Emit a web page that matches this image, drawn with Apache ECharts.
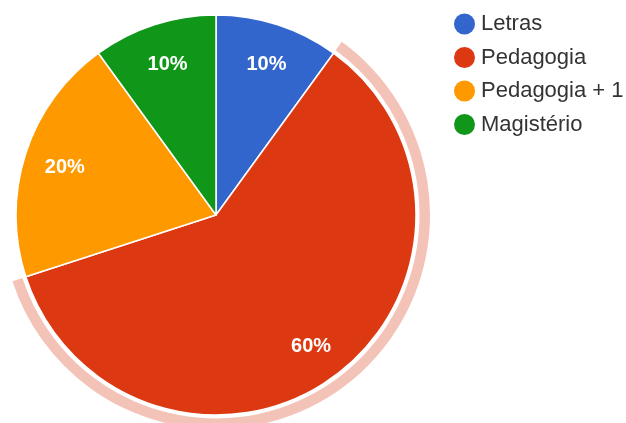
<!DOCTYPE html>
<html>
<head>
<meta charset="utf-8">
<style>
  html, body { margin: 0; padding: 0; background: #fff; }
  #chart { width: 626px; height: 423px; }
</style>
<script src="https://cdn.jsdelivr.net/npm/echarts@6/dist/echarts.min.js"></script>
</head>
<body>
<div id="chart"></div>
<script>
// Course share data
const categories = ['Letras', 'Pedagogia', 'Pedagogia + 1', 'Magistério'];
const values = [10, 60, 20, 10];
const colors = ['#3366cc', '#dc3912', '#ff9900', '#109618'];
const highlighted = 'Pedagogia';

const center = [216, 215];

const chart = echarts.init(document.getElementById('chart'), null, { renderer: 'canvas' });

const sliceData = categories.map((name, i) => ({
  name,
  value: values[i],
  itemStyle: { color: colors[i] }
}));

// Outer halo around the selected slice
const haloData = categories.map((name, i) => ({
  name,
  value: values[i],
  itemStyle: { color: name === highlighted ? 'rgba(220,57,18,0.3)' : 'rgba(0,0,0,0)' }
}));

// Transparent ring used only to place the percentage labels
const labelData = categories.map((name, i) => ({
  name,
  value: values[i],
  itemStyle: { color: 'rgba(0,0,0,0)' }
}));

chart.setOption({
  animation: false,
  color: colors,
  legend: {
    orient: 'vertical',
    left: 449,
    top: 8,
    icon: 'circle',
    itemWidth: 21,
    itemHeight: 21,
    itemGap: 11.5,
    selectedMode: false,
    data: categories.map((name, i) => ({ name, itemStyle: { color: colors[i] } })),
    textStyle: {
      fontFamily: 'Liberation Sans, Arial, sans-serif',
      fontSize: 22,
      color: '#333',
      padding: [0, 0, 0, 1]
    }
  },
  series: [
    {
      type: 'pie',
      center,
      radius: [203.5, 214],
      startAngle: 90,
      clockwise: true,
      silent: true,
      label: { show: false },
      labelLine: { show: false },
      data: haloData
    },
    {
      type: 'pie',
      center,
      radius: [0, 200],
      startAngle: 90,
      clockwise: true,
      silent: true,
      itemStyle: { borderColor: '#fff', borderWidth: 1.5 },
      label: { show: false },
      labelLine: { show: false },
      data: sliceData
    },
    {
      type: 'pie',
      center,
      radius: [114, 200],
      startAngle: 90,
      clockwise: true,
      silent: true,
      labelLine: { show: false },
      label: {
        show: true,
        position: 'inside',
        offset: [1, 2],
        formatter: (p) => Math.round(p.percent) + '%',
        color: '#fff',
        fontFamily: 'Liberation Sans, Arial, sans-serif',
        fontWeight: 'bold',
        fontSize: 20
      },
      data: labelData
    }
  ]
});
</script>
</body>
</html>
